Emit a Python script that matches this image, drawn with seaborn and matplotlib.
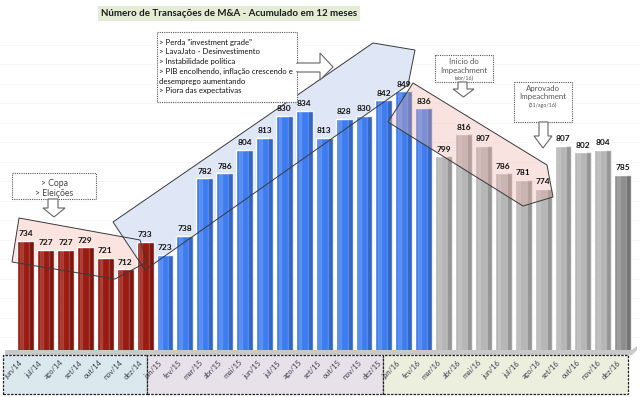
import matplotlib
matplotlib.use('Agg')
import numpy as np
import pandas as pd
import seaborn as sns
import matplotlib.pyplot as plt
from matplotlib.patches import Polygon, Rectangle
from matplotlib.transforms import blended_transform_factory


# data
months = ['jun/14', 'jul/14', 'ago/14', 'set/14', 'out/14', 'nov/14', 'dez/14',
          'jan/15', 'fev/15', 'mar/15', 'abr/15', 'mai/15', 'jun/15', 'jul/15',
          'ago/15', 'set/15', 'out/15', 'nov/15', 'dez/15',
          'jan/16', 'fev/16', 'mar/16', 'abr/16', 'mai/16', 'jun/16', 'jul/16',
          'ago/16', 'set/16', 'out/16', 'nov/16', 'dez/16']
deals = [734, 727, 727, 729, 721, 712, 733,
         723, 738, 782, 786, 804, 813, 830, 834, 813, 828, 830, 842,
         849, 836, 799, 816, 807, 786, 781, 774, 807, 802, 804, 785]
groups = ['red'] * 7 + ['blue'] * 14 + ['grey'] * 9 + ['dark']

palette = {'red': '#9a1b12', 'blue': '#3d7cf0', 'grey': '#b6b6b6', 'dark': '#8e8e8e'}

TITLE = 'Número de Transações de M&A - Acumulado em 12 meses'

# pixel -> data helpers (layout only)
X0, DX, BASE, PXU, YMIN = 25.7, 19.9, 350, 1.3, 650


def px(x, y):
    return ((x - X0) / DX, YMIN + (BASE - y) / PXU)


def poly(points, **kw):
    return Polygon([px(x, y) for x, y in points], closed=True, clip_on=False, **kw)


def note_box(ax, x0, y0, x1, y1):
    ax.add_patch(poly([(x0, y0), (x1, y0), (x1, y1), (x0, y1)], facecolor='white',
                      edgecolor='#555555', lw=0.8, ls=(0, (1, 1)), zorder=8))


def arrow_down(ax, xs0, xs1, ytop, yhead, xh0, xh1, tip):
    pts = [(xs0, ytop), (xs1, ytop), (xs1, yhead), (xh1, yhead), tip,
           (xh0, yhead), (xs0, yhead)]
    ax.add_patch(poly(pts, facecolor='white', edgecolor='#666666', lw=0.8, zorder=8))


def note_text(ax, x, y, s, size, color='#555555', ha='center'):
    ax.text(*px(x, y), s, ha=ha, va='center', fontsize=size, color=color, zorder=9)


sns.set_theme(style='white')
plt.rcParams['font.family'] = ['Lato', 'DejaVu Sans']

fig = plt.figure(figsize=(6.4, 3.97), dpi=100)
ax = fig.add_axes([0, 1 - BASE / 397, 1, 325 / 397])

df = pd.DataFrame({'mes': months, 'n': deals, 'grupo': groups})
sns.barplot(data=df, x='mes', y='n', hue='grupo', palette=palette, dodge=False,
            width=0.85, saturation=1, legend=False, ax=ax, zorder=3)

xs = np.arange(len(deals))
# crude 3d shading on the bars
ax.bar(xs + 0.3, deals, width=0.25, color='black', alpha=0.18, zorder=3.2)
ax.bar(xs - 0.22, deals, width=0.14, color='white', alpha=0.12, zorder=3.2)

ax.set_xlim(-X0 / DX, (640 - X0) / DX)
ax.set_ylim(YMIN, YMIN + 325 / PXU)
ax.axis('off')

# faint sheet grid
for yy in np.arange(660, 900, 15):
    ax.axhline(yy, color='#f6f6f6', lw=0.6, zorder=0)

# value labels
for i, v in enumerate(deals):
    ax.text(i, v + 5.5, str(v), ha='center', va='center', fontsize=6,
            fontweight='bold', color='#111111', zorder=9)

# shaded trend regions
pink1 = [(19, 218), (12, 262), (115, 279), (147, 262), (140, 240)]
blue = [(113, 222), (373, 43), (415, 50), (408, 85), (145, 270)]
pink2 = [(388, 122), (413, 83), (547, 165), (553, 197), (523, 206)]
ax.add_patch(poly(pink1, facecolor='#fbe3e0', edgecolor='none', zorder=0.8))
ax.add_patch(poly(blue, facecolor='#dfe7f7', edgecolor='none', zorder=1))
ax.add_patch(poly(pink2, facecolor='#f0b0a8', alpha=0.35, edgecolor='none', zorder=4.5))
for pts in (pink1, blue, pink2):
    ax.add_patch(poly(pts, facecolor='none', edgecolor='#3a3a3a', lw=0.7, zorder=5))

# floor under the bars
ax.add_patch(poly([(5, 350), (632, 350), (637, 346), (637, 350), (632, 355), (5, 355)],
                  facecolor='#c9c9c9', edgecolor='none', zorder=2))

# year boxes and month labels
tr = blended_transform_factory(ax.transData, fig.transFigure)
for a, b, col in [(3, 147, '#dbe9ef'), (147, 383, '#e7e2ea'), (383, 628, '#eceede')]:
    xa = (a - X0) / DX
    xb = (b - X0) / DX
    ax.add_patch(Rectangle((xa, 3 / 397), xb - xa, 39 / 397, transform=tr,
                           facecolor=col, edgecolor='#222222', lw=0.9,
                           ls=(0, (2, 1)), clip_on=False, zorder=2))
for i, m in enumerate(months):
    ax.text(i - 0.6, 1 - 369.5 / 397, m, transform=tr, rotation=45, ha='center',
            va='center', fontsize=5.3, color='#3b3b4b', zorder=3)

# notes
note_box(ax, 12, 173, 96, 199)
note_text(ax, 54, 188.5, '> Copa\n> Eleições', 6.2, '#444444')
arrow_down(ax, 48, 58, 199, 208, 43, 65, (54, 217))

note_box(ax, 157, 32, 297, 102)
ax.add_patch(poly([(297, 63), (320, 63), (320, 53), (333, 67), (320, 80), (320, 72), (297, 72)],
                  facecolor='white', edgecolor='#666666', lw=0.8, zorder=8))
ax.add_patch(poly([(296, 63.6), (298, 63.6), (298, 71.4), (296, 71.4)],
                  facecolor='white', edgecolor='none', zorder=8.5))
box1 = ['> Perda "investment grade"', '> LavaJato - Desinvestimento',
        '> Instabilidade política', '> PIB encolhendo, inflação crescendo e',
        'desemprego aumentando', '> Piora das expectativas']
for k, line in enumerate(box1):
    note_text(ax, 159, 42 + 9.8 * k, line, 5.6, '#111111', ha='left')

note_box(ax, 435, 55, 493, 82)
note_text(ax, 464, 62, 'Inicio do', 5.7)
note_text(ax, 464, 71, 'Impeachment', 5.7)
note_text(ax, 464, 78.5, '(abr/16)', 3.8)
arrow_down(ax, 458, 467, 82, 89, 453, 474, (463.5, 97))

note_box(ax, 514, 82, 572, 122)
note_text(ax, 543, 89, 'Aprovado', 5.7)
note_text(ax, 543, 97, 'Impeachment', 5.7)
note_text(ax, 543, 105, '(31/ago/16)', 3.8)
arrow_down(ax, 539, 548, 122, 136, 534, 552, (543, 148))

fig.text(229 / 640, 1 - 13.5 / 397, TITLE, ha='center', va='center', fontsize=7.0,
         fontweight='bold', color='#1a1a1a',
         bbox=dict(facecolor='#e4ecd5', edgecolor='none', pad=1.8))

fig.savefig('out.png', dpi=100)
